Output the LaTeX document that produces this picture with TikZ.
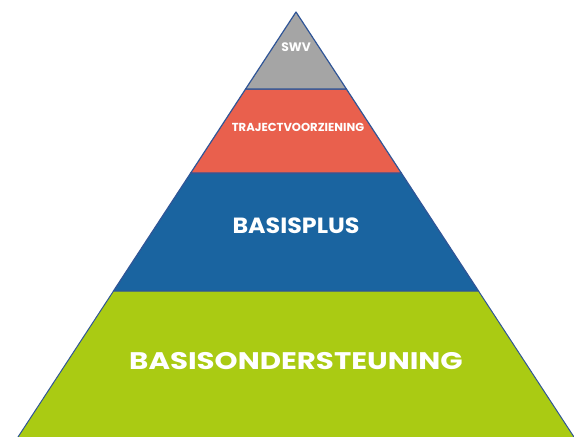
\documentclass[tikz,border=0pt]{standalone}
\usepackage{fontspec}
\setmainfont{Poppins}
\definecolor{edgeblue}{HTML}{2F5597}
\definecolor{swvgrey}{HTML}{A5A5A5}
\definecolor{trajred}{HTML}{E9604D}
\definecolor{plusblue}{HTML}{1A64A0}
\definecolor{basegreen}{HTML}{AACB13}
\newcommand{\widetext}[2]{\scalebox{#1}[1]{#2}}
\begin{document}
\begin{tikzpicture}[x=1pt,y=-1pt,
  layer/.style={draw=edgeblue,line width=1.2pt,line join=round},
  label/.style={text=white,font=\bfseries,inner sep=0pt}]
  \useasboundingbox (0,0) rectangle (574,437);
  % pyramid sides: x = 296 -+ 0.654*(y-12)
  \fill[basegreen] (18,437) -- (113.5,291) -- (478.5,291) -- (574,437) -- cycle;
  \draw[edgeblue,line width=1pt] (18,437) -- (113.5,291);
  \draw[edgeblue,line width=1pt] (478.5,291) -- (574,437);
  \filldraw[layer,fill=plusblue] (113.5,291) -- (190.7,173) -- (401.3,173) -- (478.5,291) -- cycle;
  \filldraw[layer,fill=trajred] (190.7,173) -- (245.6,89) -- (346.4,89) -- (401.3,173) -- cycle;
  \filldraw[layer,fill=swvgrey] (245.6,89) -- (296,12) -- (346.4,89) -- cycle;

  \node[label,font=\bfseries\fontsize{12.3}{14}\selectfont] (swv) at (296,47) {SWV};
  \node[label,font=\bfseries\fontsize{11.6}{13}\selectfont] (traject) at (298,127) {TRAJECTVOORZIENING};
  \node[label,font=\bfseries\fontsize{22}{24}\selectfont] (basisplus) at (296,226) {\widetext{1.08}{BASISPLUS}};
  \node[label,font=\bfseries\fontsize{24}{26}\selectfont] (basisonder) at (296,361) {\widetext{1.22}{BASISONDERSTEUNING}};
\end{tikzpicture}
\end{document}
